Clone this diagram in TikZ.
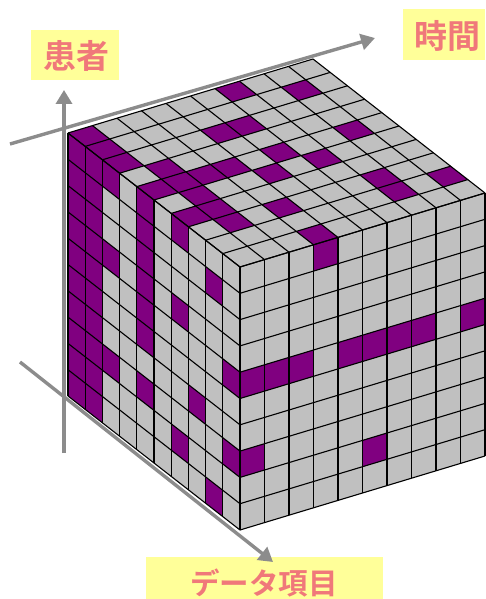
\documentclass[tikz,border=0pt]{standalone}
\usepackage{fontspec}
\newfontfamily\jpfont{Noto Sans CJK JP}[BoldFont={* Bold}]
\definecolor{cellgray}{HTML}{C0C0C0}
\definecolor{cellpurple}{HTML}{800080}
\definecolor{axisgray}{HTML}{8C8C8C}
\definecolor{labelyellow}{HTML}{FFFF99}
\definecolor{labelred}{HTML}{F0787A}
\usetikzlibrary{arrows.meta,calc}
\tikzset{
  labelbox/.style={fill=labelyellow,inner sep=0pt},
  labeltext/.style={inner sep=0pt,text=labelred,font=\jpfont\bfseries\fontsize{33}{33}\selectfont},
  gridline/.style={draw=black,line width=1.1pt,line join=round},
  axisline/.style={draw=axisgray,line width=3.4pt,-{Triangle[length=14pt,width=16pt]}},
}
\newcommand{\topcell}[3]{\fill[#3] ($(L)+#1*(A)+#2*(B)$) -- ($(L)+#1*(A)+#2*(B)+(A)$) -- ($(L)+#1*(A)+#2*(B)+(A)+(B)$) -- ($(L)+#1*(A)+#2*(B)+(B)$) -- cycle;}
\newcommand{\leftcell}[3]{\fill[#3] ($(L)+#1*(A)+#2*(C)$) -- ($(L)+#1*(A)+#2*(C)+(A)$) -- ($(L)+#1*(A)+#2*(C)+(A)+(C)$) -- ($(L)+#1*(A)+#2*(C)+(C)$) -- cycle;}
\newcommand{\rightcell}[3]{\fill[#3] ($(F)+#1*(B)+#2*(C)$) -- ($(F)+#1*(B)+#2*(C)+(B)$) -- ($(F)+#1*(B)+#2*(C)+(B)+(C)$) -- ($(F)+#1*(B)+#2*(C)+(C)$) -- cycle;}
\begin{document}
\begin{tikzpicture}[x=1pt,y=-1pt]
\useasboundingbox (0,0) rectangle (485,599);
% cube corners
\coordinate (L) at (68,133);
\coordinate (A) at (17.2,13.4);
\coordinate (B) at (24.5,-7.4);
\coordinate (C) at (0,26.3);
\coordinate (F) at (240,267);
% base faces
\fill[cellgray] (L) -- ($(L)+10*(A)$) -- ($(L)+10*(A)+10*(B)$) -- ($(L)+10*(B)$) -- cycle;
\fill[cellgray] (L) -- ($(L)+10*(A)$) -- ($(L)+10*(A)+10*(C)$) -- ($(L)+10*(C)$) -- cycle;
\fill[cellgray] (F) -- ($(F)+10*(B)$) -- ($(F)+10*(B)+10*(C)$) -- ($(F)+10*(C)$) -- cycle;
% purple cells
\foreach \u/\v in {0/0,1/0,2/0,4/0,6/0,0/6,1/8,2/4,2/5,4/8,4/5,5/6,3/1,4/2,4/3,4/1,5/4,5/1,6/1,7/1,7/3,9/3,7/7,8/7,8/9}
  {\topcell{\u}{\v}{cellpurple}}
\foreach \u/\v in {0/0,0/1,0/2,0/3,0/4,0/5,0/6,0/7,0/8,0/9,1/0,1/1,1/2,1/3,1/4,1/5,1/6,1/7,1/8,1/9,2/0,2/3,2/7,4/0,4/1,4/2,4/3,4/4,4/5,4/7,6/0,6/3,6/8,7/6,8/1,8/9,9/4,9/7}
  {\leftcell{\u}{\v}{cellpurple}}
\foreach \u/\v in {3/0,0/4,1/4,2/4,4/4,5/4,6/4,7/4,9/4,0/7,5/8}
  {\rightcell{\u}{\v}{cellpurple}}
% grid
\foreach \i in {0,...,10}{
  \draw[gridline] ($(L)+\i*(A)$) -- ($(L)+\i*(A)+10*(B)$);
  \draw[gridline] ($(L)+\i*(B)$) -- ($(L)+\i*(B)+10*(A)$);
  \draw[gridline] ($(L)+\i*(A)$) -- ($(L)+\i*(A)+10*(C)$);
  \draw[gridline] ($(L)+\i*(C)$) -- ($(L)+\i*(C)+10*(A)$);
  \draw[gridline] ($(F)+\i*(B)$) -- ($(F)+\i*(B)+10*(C)$);
  \draw[gridline] ($(F)+\i*(C)$) -- ($(F)+\i*(C)+10*(B)$);
}
% labels
\node[labelbox,minimum width=88pt,minimum height=50pt] (patientbox) at (75,55) {};
\node[labeltext] (patient) at (76,56) {患者};
\node[labelbox,minimum width=82pt,minimum height=51pt] (timebox) at (444,34.5) {};
\node[labeltext] (time) at (447,36) {時間};
\node[labelbox,minimum width=237pt,minimum height=42pt] (itembox) at (264.5,578) {};
\node[labeltext,font=\jpfont\bfseries\fontsize{29.5}{30}\selectfont] (item) at (264,583.5) {データ項目};
% axes
\coordinate (p0) at (64,453);
\coordinate (p1) at (64,90);
\coordinate (t0) at (10,144);
\coordinate (t1) at (375,38);
\coordinate (d0) at (20,362);
\coordinate (d1) at (273,562);
\draw[axisline] (p0) -- (p1);
\draw[axisline] (t0) -- (t1);
\draw[axisline] (d0) -- (d1);
\end{tikzpicture}
\end{document}
